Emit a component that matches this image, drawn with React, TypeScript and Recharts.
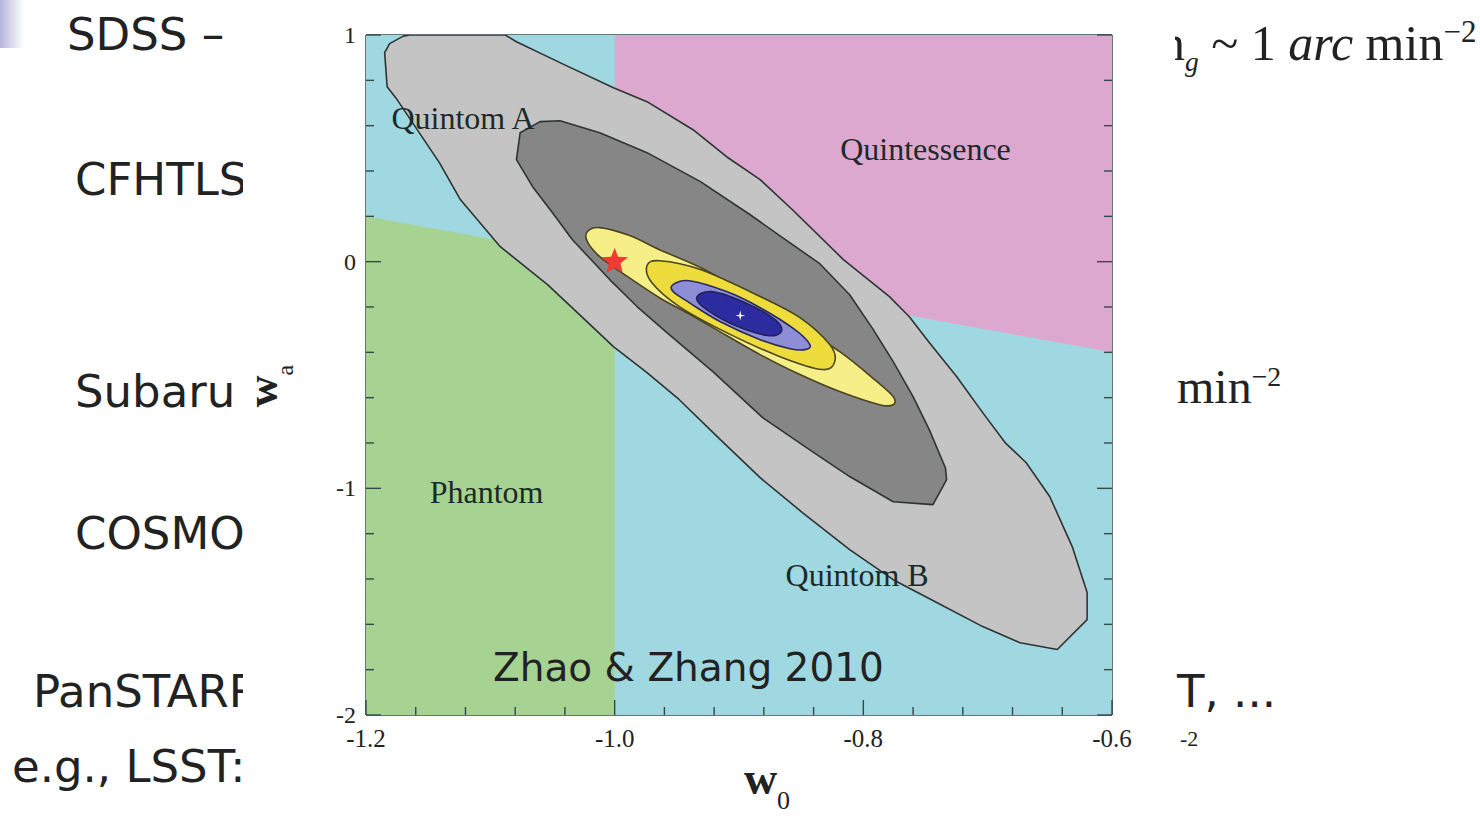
import { ScatterChart, Scatter, XAxis, YAxis } from 'recharts'

type Pt = [number, number]

// background regions of the (w0, wa) plane
const cyanRegion: Pt[] = [[-1.2, -2], [-1.2, 1], [-0.6, 1], [-0.6, -2]]
const phantomRegion: Pt[] = [[-1.2, -2], [-1.2, 0.2], [-1.0, 0], [-1.0, -2]]
const quintessenceRegion: Pt[] = [[-1.0, 0], [-1.0, 1], [-0.6, 1], [-0.6, -0.4]]

// confidence contours, traced clockwise
const outerContour: Pt[] = [
  [-1.185, 0.922], [-1.181, 0.962], [-1.170, 0.995], [-1.165, 1.0], [-1.088, 1.0], [-1.079, 0.970],
  [-1.044, 0.878], [-1.001, 0.767], [-0.974, 0.706], [-0.937, 0.582], [-0.910, 0.463], [-0.883, 0.362],
  [-0.857, 0.229], [-0.816, 0.009], [-0.779, -0.154], [-0.763, -0.243], [-0.747, -0.357], [-0.725, -0.507],
  [-0.704, -0.666], [-0.686, -0.798], [-0.669, -0.887], [-0.650, -1.037], [-0.632, -1.257], [-0.620, -1.460],
  [-0.620, -1.579], [-0.644, -1.711], [-0.674, -1.681], [-0.704, -1.610], [-0.741, -1.504], [-0.776, -1.403],
  [-0.811, -1.270], [-0.849, -1.107], [-0.883, -0.953], [-0.915, -0.785], [-0.948, -0.609], [-0.974, -0.490],
  [-1.001, -0.375], [-1.024, -0.256], [-1.054, -0.101], [-1.092, 0.066], [-1.124, 0.273], [-1.141, 0.437],
  [-1.175, 0.715], [-1.183, 0.772],
]
const darkContour: Pt[] = [
  [-1.079, 0.450], [-1.076, 0.569], [-1.060, 0.618], [-1.044, 0.622], [-1.012, 0.569], [-0.974, 0.481],
  [-0.931, 0.353], [-0.891, 0.207], [-0.865, 0.106], [-0.835, -0.009], [-0.811, -0.146], [-0.792, -0.300],
  [-0.776, -0.441], [-0.760, -0.595], [-0.747, -0.741], [-0.734, -0.909], [-0.733, -0.962], [-0.744, -1.072],
  [-0.776, -1.059], [-0.811, -0.948], [-0.841, -0.838], [-0.881, -0.688], [-0.921, -0.485], [-0.958, -0.313],
  [-0.982, -0.198], [-1.004, -0.079], [-1.034, 0.097], [-1.050, 0.216], [-1.066, 0.331],
]
const yellowOuter: Pt[] = [
  [-1.022, 0.132], [-1.012, 0.150], [-0.988, 0.115], [-0.964, 0.053], [-0.931, -0.026], [-0.899, -0.124],
  [-0.857, -0.265], [-0.819, -0.397], [-0.791, -0.520], [-0.776, -0.595], [-0.776, -0.631], [-0.787, -0.631],
  [-0.819, -0.573], [-0.851, -0.498], [-0.883, -0.410], [-0.910, -0.326], [-0.939, -0.234], [-0.964, -0.159],
  [-0.992, -0.057], [-1.012, 0.022], [-1.022, 0.088],
]
const yellowInner: Pt[] = [
  [-0.974, -0.018], [-0.964, 0.004], [-0.931, -0.035], [-0.883, -0.154], [-0.851, -0.247], [-0.827, -0.366],
  [-0.823, -0.441], [-0.833, -0.476], [-0.867, -0.419], [-0.910, -0.313], [-0.948, -0.198], [-0.970, -0.093],
]
const blueOuter: Pt[] = [
  [-0.953, -0.101], [-0.940, -0.084], [-0.910, -0.132], [-0.883, -0.203], [-0.855, -0.300], [-0.843, -0.366],
  [-0.847, -0.388], [-0.859, -0.384], [-0.883, -0.344], [-0.915, -0.265], [-0.940, -0.181], [-0.953, -0.132],
]
const blueInner: Pt[] = [
  [-0.934, -0.159], [-0.922, -0.132], [-0.895, -0.181], [-0.871, -0.256], [-0.866, -0.309], [-0.877, -0.326],
  [-0.903, -0.282], [-0.926, -0.212],
]

const lcdmPoint = [{ w0: -1.0, wa: 0 }]
const bestFit = [{ w0: -0.899, wa: -0.238 }]

const regionLabels = [
  { name: 'Quintom A', w0: -1.122, wa: 0.635 },
  { name: 'Quintessence', w0: -0.75, wa: 0.498 },
  { name: 'Phantom', w0: -1.103, wa: -1.015 },
  { name: 'Quintom B', w0: -0.805, wa: -1.381 },
]

const w0Ticks = [-1.2, -1.16, -1.12, -1.08, -1.04, -1.0, -0.96, -0.92, -0.88, -0.84, -0.8, -0.76, -0.72, -0.68, -0.64, -0.6]
const waTicks = [-2, -1.8, -1.6, -1.4, -1.2, -1, -0.8, -0.6, -0.4, -0.2, 0, 0.2, 0.4, 0.6, 0.8, 1]

const SERIF = '"Liberation Serif", "Times New Roman", serif'
const SANS = '"DejaVu Sans", Verdana, sans-serif'
const FRAME = '#34494a'
const INK = '#222'

const toPoints = (a: Pt[]) => a.map(([w0, wa]) => ({ w0, wa }))
const isStep = (v: number, step: number) => Math.abs(v / step - Math.round(v / step)) < 1e-6

// closed path through the scatter points, straight or smoothed
function polygon(fill: string, stroke: string, smooth = false) {
  return (props: any) => {
    const p = props.points as { x: number; y: number }[]
    if (!p || !p.length) return <g />
    const n = p.length
    let d = `M${p[0].x},${p[0].y}`
    for (let i = 0; i < n; i++) {
      const p0 = p[(i - 1 + n) % n], p1 = p[i], p2 = p[(i + 1) % n], p3 = p[(i + 2) % n]
      if (smooth) {
        const c1x = p1.x + (p2.x - p0.x) / 6, c1y = p1.y + (p2.y - p0.y) / 6
        const c2x = p2.x - (p3.x - p1.x) / 6, c2y = p2.y - (p3.y - p1.y) / 6
        d += `C${c1x},${c1y} ${c2x},${c2y} ${p2.x},${p2.y}`
      } else {
        d += `L${p2.x},${p2.y}`
      }
    }
    return <path d={d + 'Z'} fill={fill} stroke={stroke} strokeWidth={stroke === 'none' ? 0 : 1.6} strokeLinejoin="round" />
  }
}

const noDot = () => <g />

function starPath(cx: number, cy: number, R: number, r: number, n: number) {
  let d = ''
  for (let i = 0; i < 2 * n; i++) {
    const a = -Math.PI / 2 + (i * Math.PI) / n
    const rad = i % 2 ? r : R
    d += `${i ? 'L' : 'M'}${cx + rad * Math.cos(a)},${cy + rad * Math.sin(a)}`
  }
  return d + 'Z'
}

function BottomTick({ x, y, payload }: any) {
  const v = payload.value
  const major = isStep(v, 0.2)
  return (
    <g>
      <line x1={x} y1={y} x2={x} y2={y - (major ? 15 : 8)} stroke={FRAME} strokeWidth={1.4} />
      {major && (
        <text x={x} y={y + 32} textAnchor="middle" fontFamily={SERIF} fontSize={25} fill={INK}>
          {v.toFixed(1)}
        </text>
      )}
    </g>
  )
}
function TopTick({ x, y, payload }: any) {
  const major = isStep(payload.value, 0.2)
  return <line x1={x} y1={y} x2={x} y2={y + (major ? 15 : 8)} stroke={FRAME} strokeWidth={1.4} />
}
function LeftTick({ x, y, payload }: any) {
  const v = payload.value
  const major = isStep(v, 1)
  return (
    <g>
      <line x1={x} y1={y} x2={x + (major ? 15 : 8)} y2={y} stroke={FRAME} strokeWidth={1.4} />
      {major && (
        <text x={x - 10} y={y + 8} textAnchor="end" fontFamily={SERIF} fontSize={24} fill={INK}>
          {String(Math.round(v))}
        </text>
      )}
    </g>
  )
}
function RightTick({ x, y, payload }: any) {
  const major = isStep(payload.value, 1)
  return <line x1={x} y1={y} x2={x - (major ? 15 : 8)} y2={y} stroke={FRAME} strokeWidth={1.4} />
}

const XTitle = (props: any) => {
  const { x, y, width } = props.viewBox
  return (
    <text x={x + width / 2 + 28} y={y + 79} textAnchor="middle" fontFamily={SERIF} fontSize={46} fontWeight="bold" fill={INK}>
      w<tspan dy={15} fontSize={26} fontWeight="normal">0</tspan>
    </text>
  )
}
const YTitle = (props: any) => {
  const { x, y, height } = props.viewBox
  const cx = x - 29
  const cy = y + height / 2 + 11
  return (
    <text x={cx} y={cy} transform={`rotate(-90 ${cx} ${cy})`} textAnchor="middle" fontFamily={SERIF} fontSize={44} fontWeight="bold" fill={INK}>
      w<tspan dy={16} fontSize={24} fontWeight="normal">a</tspan>
    </text>
  )
}

const axisLine = { stroke: FRAME, strokeWidth: 1.5 }

const slideLeft = [
  { text: 'SDSS –', left: 67, top: 12 },
  { text: 'CFHTLS', left: 75, top: 157 },
  { text: 'Subaru', left: 75, top: 369 },
  { text: 'COSMOS', left: 75, top: 511 },
  { text: 'PanSTARRS', left: 33, top: 669 },
  { text: 'e.g., LSST:', left: 12, top: 744 },
]

export default function App() {
  const layer = (data: Pt[], fill: string, stroke: string, smooth = false) => (
    <Scatter
      data={toPoints(data)}
      xAxisId="b"
      yAxisId="l"
      line={polygon(fill, stroke, smooth)}
      shape={noDot}
      isAnimationActive={false}
    />
  )

  return (
    <div style={{ position: 'absolute', left: 0, top: 0, width: 1480, height: 816, overflow: 'hidden', background: '#fff' }}>
      <div style={{ position: 'absolute', left: 0, top: 0, width: 24, height: 48, background: 'linear-gradient(to right, #b4b4dc, #ffffff)' }} />
      {slideLeft.map(s => (
        <div key={s.text} style={{ position: 'absolute', left: s.left, top: s.top, fontFamily: SANS, fontSize: 45, lineHeight: 1, color: INK, whiteSpace: 'nowrap' }}>
          {s.text}
        </div>
      ))}
      <div style={{ position: 'absolute', left: 1160, top: 16, fontFamily: SERIF, fontSize: 50, lineHeight: 1, color: INK, whiteSpace: 'nowrap' }}>
        n<sub style={{ fontSize: '0.55em', fontStyle: 'italic' }}>g</sub>&nbsp;~ 1 <i>arc</i> min<sup style={{ fontSize: '0.62em' }}>−2</sup>
      </div>
      <div style={{ position: 'absolute', left: 1177, top: 363, fontFamily: SERIF, fontSize: 48, lineHeight: 1, color: INK, whiteSpace: 'nowrap' }}>
        min<sup style={{ fontSize: '0.58em' }}>−2</sup>
      </div>
      <div style={{ position: 'absolute', left: 1177, top: 669, fontFamily: SANS, fontSize: 45, lineHeight: 1, color: INK, whiteSpace: 'nowrap' }}>
        T, ...
      </div>
      <div style={{ position: 'absolute', left: 1180, top: 728, fontFamily: SERIF, fontSize: 22, lineHeight: 1, color: INK }}>-2</div>

      {/* the figure pasted over the slide text */}
      <div style={{ position: 'absolute', left: 243, top: 0, width: 932, height: 816, background: '#fff' }} />
      <div style={{ position: 'absolute', left: 223, top: 0, width: 952, height: 816 }}>
        <ScatterChart width={952} height={816} margin={{ top: 25, right: 53, bottom: 41, left: 83 }}>
          <XAxis xAxisId="b" type="number" dataKey="w0" domain={[-1.2, -0.6]} ticks={w0Ticks} interval={0} allowDataOverflow
            height={60} tickSize={0} tickMargin={0} tickLine={false} tick={(p: any) => <BottomTick {...p} />} axisLine={axisLine} label={XTitle} />
          <XAxis xAxisId="t" orientation="top" type="number" domain={[-1.2, -0.6]} ticks={w0Ticks} interval={0} allowDataOverflow
            height={10} tickSize={0} tickMargin={0} tickLine={false} tick={(p: any) => <TopTick {...p} />} axisLine={axisLine} />
          <YAxis yAxisId="l" type="number" dataKey="wa" domain={[-2, 1]} ticks={waTicks} interval={0} allowDataOverflow
            width={60} tickSize={0} tickMargin={0} tickLine={false} tick={(p: any) => <LeftTick {...p} />} axisLine={axisLine} label={YTitle} />
          <YAxis yAxisId="r" orientation="right" type="number" domain={[-2, 1]} ticks={waTicks} interval={0} allowDataOverflow
            width={10} tickSize={0} tickMargin={0} tickLine={false} tick={(p: any) => <RightTick {...p} />} axisLine={axisLine} />

          {layer(cyanRegion, '#9fd8e1', 'none')}
          {layer(phantomRegion, '#a6d392', 'none')}
          {layer(quintessenceRegion, '#dda8d0', 'none')}
          {layer(outerContour, '#c4c4c4', '#2e3333')}
          {layer(darkContour, '#868686', '#2e3333')}
          {layer(yellowOuter, '#f6ee86', '#4a4420', true)}
          {layer(yellowInner, '#eedc3c', '#4a4420', true)}
          {layer(blueOuter, '#8e8ed6', '#2a2a60', true)}
          {layer(blueInner, '#2c2ca0', '#22225a', true)}

          <Scatter
            data={regionLabels}
            xAxisId="b"
            yAxisId="l"
            isAnimationActive={false}
            shape={(p: any) => (
              <text x={p.cx} y={p.cy} textAnchor="middle" dominantBaseline="central" fontFamily={SERIF} fontSize={32} fill="#1c2a2a">
                {p.payload.name}
              </text>
            )}
          />
          <Scatter
            data={lcdmPoint}
            xAxisId="b"
            yAxisId="l"
            isAnimationActive={false}
            shape={(p: any) => <path d={starPath(p.cx, p.cy, 14, 6, 5)} fill="#ee3b33" />}
          />
          <Scatter
            data={bestFit}
            xAxisId="b"
            yAxisId="l"
            isAnimationActive={false}
            shape={(p: any) => <path d={starPath(p.cx, p.cy, 5, 1.3, 4)} fill="#ffffff" />}
          />
        </ScatterChart>
      </div>

      <div style={{ position: 'absolute', left: 493, top: 648, fontFamily: SANS, fontSize: 39, lineHeight: 1, color: INK, whiteSpace: 'nowrap' }}>
        Zhao &amp; Zhang 2010
      </div>
    </div>
  )
}
